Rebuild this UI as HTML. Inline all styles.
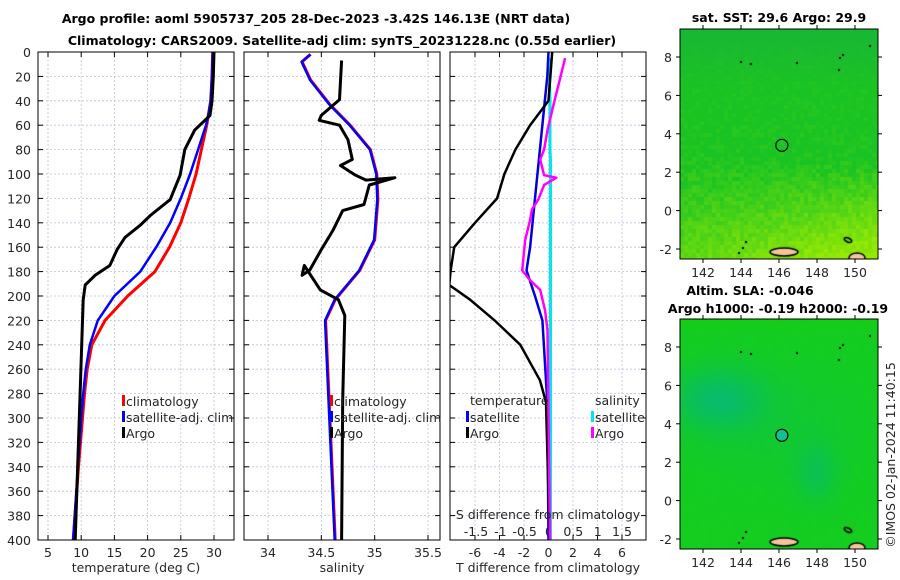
<!DOCTYPE html>
<html><head><meta charset="utf-8">
<style>
html,body{margin:0;padding:0;background:#fff;}
body{width:900px;height:580px;position:relative;overflow:hidden;font-family:"DejaVu Sans","Liberation Sans",sans-serif;}
svg{position:absolute;left:0;top:0;}
canvas{position:absolute;}
</style></head><body>
<canvas id="map1" style="left:680px;top:29px" width="198" height="230"></canvas>
<canvas id="map2" style="left:680px;top:319px" width="198" height="230"></canvas>
<svg id="chart" width="900" height="580" xmlns="http://www.w3.org/2000/svg"></svg>
<script>
// ---- data ----
const depthTicks=[0,20,40,60,80,100,120,140,160,180,200,220,240,260,280,300,320,340,360,380,400];
const tTicks=[5,10,15,20,25,30];
const sTicks=[34,34.5,35,35.5];
const dTTicks=[-6,-4,-2,0,2,4,6];
const dSTicks=[-1.5,-1,-0.5,0,0.5,1,1.5];
const lonTicks=[142,144,146,148,150];
const latTicks=[-2,0,2,4,6,8];

const climDepth=[0,20,40,50,60,80,100,120,140,160,180,200,220,240,260,280,300,340,400];
const climT=[29.8,29.7,29.5,29.2,28.9,28.1,27.3,26.2,25.0,23.3,21.1,17.0,13.6,11.6,10.9,10.5,10.2,9.6,8.8];
const satT=[29.8,29.7,29.5,29.2,28.8,27.6,26.4,25.0,23.4,21.3,18.9,15.0,12.5,11.3,10.7,10.3,10.0,9.5,8.8];
const argoTDepth=[0,20,40,52,64,80,101,121,134,142,152,162,175,183,191,203,285,400];
const argoT=[30.0,29.9,29.7,29.4,27.1,25.6,24.9,23.4,20.4,18.9,16.6,15.4,14.3,12.1,10.6,10.3,9.8,9.1];

const climSDepth=[2,8,23,43,60,80,100,121,154,179,203,220,240,300,400];
const climS=[34.4,34.32,34.4,34.58,34.77,34.96,35.02,35.03,35.0,34.86,34.63,34.54,34.55,34.58,34.63];
const argoSDepth=[7,39,52,56,60,72,88,93,101,105,103,109,125,130,146,162,179,183,175,195,203,216,285,400];
const argoS=[34.69,34.67,34.5,34.48,34.67,34.75,34.79,34.68,34.82,34.92,35.19,34.95,34.9,34.7,34.61,34.5,34.39,34.32,34.34,34.49,34.66,34.72,34.7,34.69];

const dTDepth=[0,40,60,80,100,120,140,160,180,191,203,220,240,269,287,400];
const argoDT=[0.3,0.0,-1.5,-2.7,-3.6,-4.2,-6.0,-7.7,-8.0,-8.1,-6.4,-4.4,-2.3,-0.7,-0.2,0.1];
const satDTDepth=[0,20,80,120,160,179,200,220,287,400];
const satDT=[0.0,-0.1,-0.7,-1.1,-1.5,-1.8,-1.1,-0.5,-0.1,0.0];
const dSDepth=[5,23,39,64,80,88,101,103,109,121,129,138,154,179,187,195,212,228,400];
const argoDS=[0.33,0.22,0.12,-0.03,-0.1,-0.18,-0.1,0.15,-0.1,-0.22,-0.35,-0.39,-0.49,-0.55,-0.39,-0.18,-0.08,-0.03,0.02];
const satDS=[0.0,0.01,0.02,0.02,0.02,0.03,0.03,0.03,0.03,0.03,0.03,0.03,0.03,0.03,0.03,0.03,0.03,0.03,0.03];

const argoLon=146.15, argoLat=3.4;

// ---- helpers ----
const svg=document.getElementById('chart');
const NS='http://www.w3.org/2000/svg';
function mk(tag,at,parent){const e=document.createElementNS(NS,tag);for(const k in at)e.setAttribute(k,at[k]);(parent||svg).appendChild(e);return e;}
function txt(x,y,s,at){const e=mk('text',Object.assign({x:x,y:y,'font-size':12.5,fill:'#262626'},at||{}));e.textContent=s;return e;}
const Y0=52,Y1=540;
const yD=d=>Y0+(d/400)*(Y1-Y0);
function lin(d0,d1,r0,r1){return v=>r0+(v-d0)/(d1-d0)*(r1-r0);}

function panel(name,x0,x1,xs,ticks,fmt){
  const g=mk('g',{});
  
  
  ticks.forEach(t=>{const x=xs(t);mk('line',{x1:x,x2:x,y1:Y0,y2:Y1,stroke:'#b8c4dc','stroke-width':0.8,'stroke-dasharray':'2,2'},g);});
  depthTicks.forEach(d=>{const y=yD(d);mk('line',{x1:x0,x2:x1,y1:y,y2:y,stroke:'#b8c4dc','stroke-width':0.8,'stroke-dasharray':'2,2'},g);
    mk('line',{x1:x0,x2:x0+5,y1:y,y2:y,stroke:'#000'},g);mk('line',{x1:x1,x2:x1-5,y1:y,y2:y,stroke:'#000'},g);});
  if(fmt) ticks.forEach(t=>{const x=xs(t);mk('line',{x1:x,x2:x,y1:Y1,y2:Y1-5,stroke:'#000'},g);mk('line',{x1:x,x2:x,y1:Y0,y2:Y0+5,stroke:'#000'},g);
    const l=txt(x,557,fmt(t),{'text-anchor':'middle'});});
  return g;
}
function frame(x0,x1){mk('rect',{x:x0,y:Y0,width:x1-x0,height:Y1-Y0,fill:'none',stroke:'#000','stroke-width':1});}
function line(xs,vals,depths,color,w,name,clip){
  const p=vals.map((v,i)=>xs(v).toFixed(1)+','+yD(depths[i]).toFixed(1)).join(' ');
  const e=mk('polyline',{points:p,fill:'none',stroke:color,'stroke-width':w,'stroke-linejoin':'round','clip-path':clip||''});
  
  
}
let t1=txt(316,23,'Argo profile: aoml 5905737_205 28-Dec-2023 -3.42S 146.13E (NRT data)',{'text-anchor':'middle','font-weight':'bold','fill':'#000'});

let t2=txt(342,45,'Climatology: CARS2009. Satellite-adj clim: synTS_20231228.nc (0.55d earlier)',{'text-anchor':'middle','font-weight':'bold','fill':'#000'});


depthTicks.forEach(d=>{const l=txt(31,yD(d)+5,String(d),{'text-anchor':'end'});});

const defs=mk('defs',{});
[['c1',38,234],['c2',244,440],['c3',450,646]].forEach(c=>{const cp=mk('clipPath',{id:c[0]},defs);mk('rect',{x:c[1],y:Y0,width:c[2]-c[1],height:Y1-Y0},cp);});

// panel 1
const xT=lin(5,30,48,214);
panel('temperature-panel',38,234,xT,tTicks,String);
line(xT,climT,climDepth,'#ff0000',3,'climatology-temperature-line','url(#c1)');
line(xT,satT,climDepth,'#0000ff',2.5,'satellite-temperature-line','url(#c1)');
line(xT,argoT,argoTDepth,'#000000',3,'argo-temperature-line','url(#c1)');
frame(38,234);
let xl=txt(136,572,'temperature (deg C)',{'text-anchor':'middle'});
function legend(x,y,color,label,name){const g=mk('g',{});
  mk('rect',{x:x,y:y-11,width:3,height:11,fill:color},g);const t=txt(x+4,y,label,{});g.appendChild(t);}
legend(122,406,'#ff0000','climatology','legend-climatology');
legend(122,422,'#0000ff','satellite-adj. clim','legend-satellite');
legend(122,438,'#000','Argo','legend-argo');

// panel 2
const xS=lin(34,35.5,268,428);
panel('salinity-panel',244,440,xS,sTicks,String);
line(xS,climS,climSDepth,'#ff0000',3,'climatology-salinity-line','url(#c2)');
line(xS,climS.map(v=>v-0.005),climSDepth,'#0000ff',2.5,'satellite-salinity-line','url(#c2)');
line(xS,argoS,argoSDepth,'#000',3,'argo-salinity-line','url(#c2)');
frame(244,440);
xl=txt(342,572,'salinity',{'text-anchor':'middle'});
legend(330,406,'#ff0000','climatology','legend-climatology');
legend(330,422,'#0000ff','satellite-adj. clim','legend-satellite');
legend(330,438,'#000','Argo','legend-argo');

// panel 3
const xDT=lin(-6,6,475,622);
const xDS=lin(-1.5,1.5,476,622);
panel('difference-panel',450,646,xDT,dTTicks,String);
dSTicks.forEach(t=>{const l=txt(xDS(t),536,String(t),{'text-anchor':'middle'});});
line(xDS,satDS,dSDepth,'#00e5ee',3,'satellite-salinity-diff-line','url(#c3)');
line(xDT,satDT,satDTDepth,'#0000dd',2.5,'satellite-temperature-diff-line','url(#c3)');
line(xDT,argoDT,dTDepth,'#000',2.5,'argo-temperature-diff-line','url(#c3)');
line(xDS,argoDS,dSDepth,'#ff00ff',2.5,'argo-salinity-diff-line','url(#c3)');
frame(450,646);
xl=txt(548,519,'S difference from climatology',{'text-anchor':'middle'});
xl=txt(548,572,'T difference from climatology',{'text-anchor':'middle'});
txt(470,405,'temperature');txt(595,405,'salinity');
legend(466,422,'#0000ff','satellite','legend-t-satellite');
legend(466,438,'#000','Argo','legend-t-argo');
legend(591,422,'#00e5ee','satellite','legend-s-satellite');
legend(591,438,'#ff00ff','Argo','legend-s-argo');

// maps axes
const xLon=lin(142,150,703,855);
function mapAxes(top,bottom,lat8,latm2,name){
  const yLat=lin(8,-2,lat8,latm2);
  const g=mk('g',{});
  mk('rect',{x:680,y:top,width:198,height:bottom-top,fill:'none',stroke:'#000','stroke-width':1},g);
  lonTicks.forEach(l=>{const x=xLon(l);mk('line',{x1:x,x2:x,y1:bottom,y2:bottom+4,stroke:'#000'},g);mk('line',{x1:x,x2:x,y1:top,y2:top-4,stroke:'#000'},g);
    const t=txt(x,bottom+18,String(l),{'text-anchor':'middle'});});
  latTicks.forEach(l=>{const y=yLat(l);mk('line',{x1:676,x2:680,y1:y,y2:y,stroke:'#000'},g);mk('line',{x1:878,x2:882,y1:y,y2:y,stroke:'#000'},g);
    const t=txt(672,y+5,String(l),{'text-anchor':'end'});});
  return yLat;
}
const yLat1=mapAxes(29,259,57,249,'sst-map-axes');
const yLat2=mapAxes(319,549,347,539,'sla-map-axes');
let m=txt(779,22,'sat. SST: 29.6 Argo: 29.9',{'text-anchor':'middle','font-weight':'bold','fill':'#000'});
m=txt(750,295,'Altim. SLA: -0.046',{'text-anchor':'middle','font-weight':'bold','fill':'#000'});
m=txt(778,313,'Argo h1000: -0.19 h2000: -0.19',{'text-anchor':'middle','font-weight':'bold','fill':'#000'});
m=txt(0,0,'©IMOS 02-Jan-2024 11:40:15',{'text-anchor':'middle',transform:'translate(895,455) rotate(-90)'});
let c=mk('circle',{cx:xLon(argoLon),cy:yLat1(argoLat),r:6,fill:'none',stroke:'#000','stroke-width':1.2});

c=mk('circle',{cx:xLon(argoLon),cy:yLat2(argoLat),r:6,fill:'#10c090',stroke:'#000','stroke-width':1.2});


// map textures
function hash(i,j){let h=(i*374761393+j*668265263)^0x5bd1e995;h=Math.imul(h^(h>>>13),1274126177);return ((h^(h>>>16))>>>0)/4294967295;}
function drawMap(id,fn){const cv=document.getElementById(id),ctx=cv.getContext('2d');const s=4;
  for(let i=0;i<cv.width/s;i++)for(let j=0;j<cv.height/s;j++){ctx.fillStyle=fn(i*s/cv.width,j*s/cv.height,hash(i,j));ctx.fillRect(i*s,j*s,s,s);}
  ctx.fillStyle='#f4c49a';ctx.strokeStyle='#000';ctx.lineWidth=1.5;
  ctx.beginPath();ctx.ellipse(104,223,14,4,0,0,Math.PI*2);ctx.fill();ctx.stroke();
  ctx.beginPath();ctx.ellipse(177,229,8,5,0,0,Math.PI*2);ctx.fill();ctx.stroke();
  ctx.beginPath();ctx.ellipse(168,211,4,2,0.5,0,Math.PI*2);ctx.stroke();
  ctx.fillStyle='#000';
  [[60,32],[70,34],[116,33],[189,16],[159,28],[162,25],[158,40],[62,218],[58,223],[45,230],[37,234],[65,212]].forEach(p=>ctx.fillRect(p[0],p[1],2,2));
}
drawMap('map1',(u,v,r)=>{
  let w=Math.max(0,(v-0.55)*2.2)*(0.55+u*0.6);
  w+= (r-0.5)*0.3*Math.min(1,v*2); w=Math.max(0,Math.min(1,w));
  const top=Math.max(0,0.25-v)*2;
  const R=Math.round(25+w*125), G=Math.round(195+w*38-top*25), B=Math.round(35-w*30+top*35);
  return `rgb(${R},${G},${B})`;});
drawMap('map2',(u,v,r)=>{
  let t=Math.exp(-(((u-0.18)/0.22)**2+((v-0.34)/0.13)**2))*0.75+Math.exp(-(((u-0.68)/0.1)**2+((v-0.66)/0.13)**2))*0.45+Math.exp(-(((u-0.5)/0.5)**2+((v-0.45)/0.3)**2))*0.2;
  t+= (r-0.5)*0.05; t=Math.max(0,Math.min(1,t));
  const edge=Math.max(0,0.05-v)*8;
  const R=Math.round(20-t*15), G=Math.round(205-t*20), B=Math.round(30+t*90-edge*20);
  return `rgb(${R},${G},${B})`;});
</script>
</body></html>
